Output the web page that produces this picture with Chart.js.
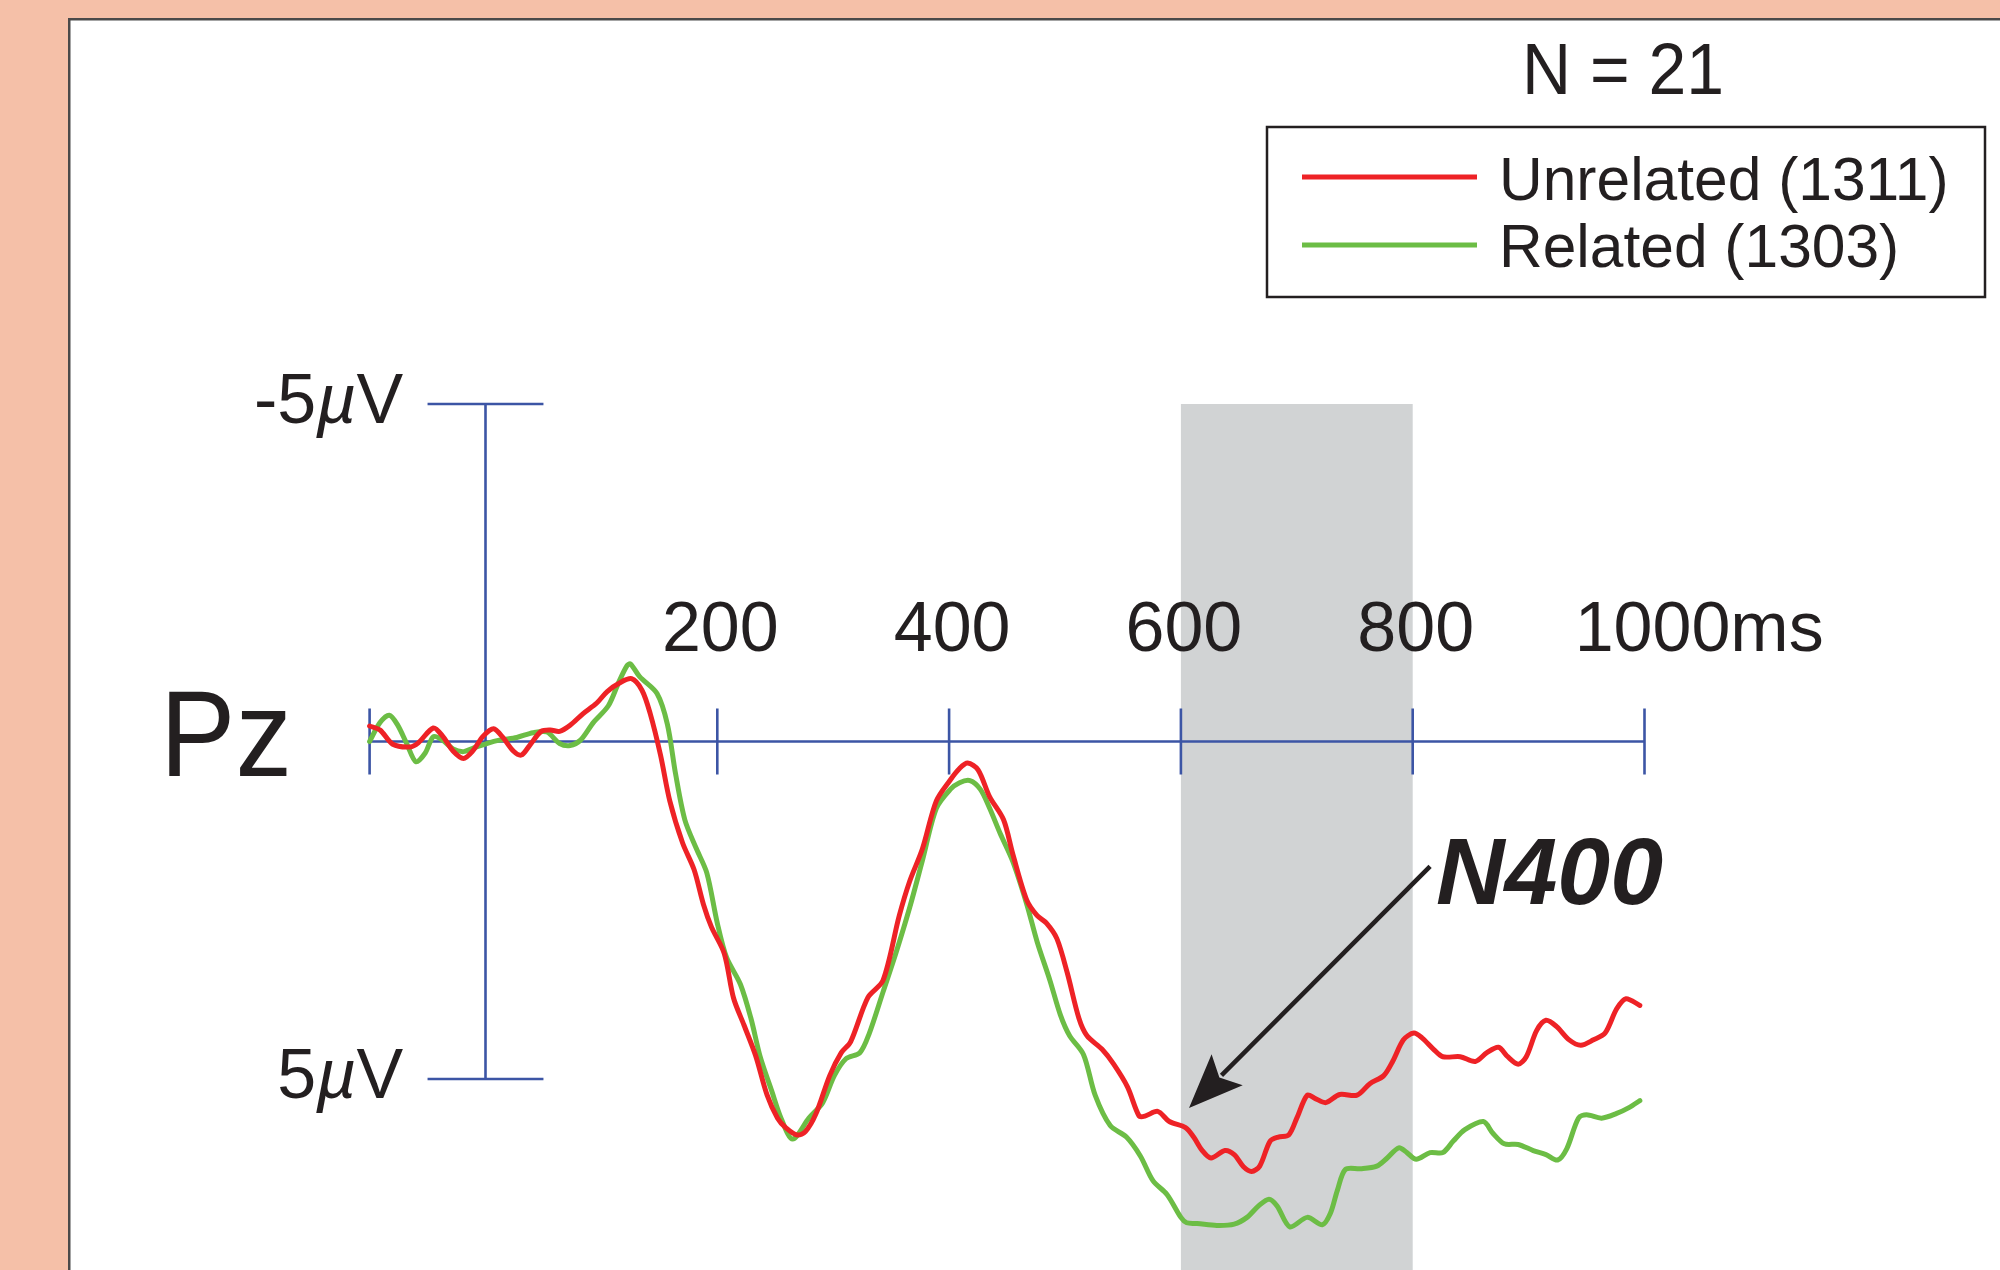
<!DOCTYPE html>
<html>
<head>
<meta charset="utf-8">
<script src="https://cdn.jsdelivr.net/npm/chart.js@4.4.1/dist/chart.umd.min.js"></script>
<style>
html,body{margin:0;padding:0;background:#f5c0a8;}
#wrap{position:absolute;left:0;top:0;width:2000px;height:1270px;}
canvas{display:block;}
</style>
</head>
<body>
<div id="wrap"><canvas id="c" width="2000" height="1270"></canvas></div>
<script>
// ---------------- DATA ----------------
const seriesLabels = ['Unrelated (1311)', 'Related (1303)'];

const unrelatedTimes = [-100,-91,-80,-65,-58,-45,-37,-28,-19,-11,-2,7,15,24,31,38,48,56,64,73,84,96,105,116,126,135,142,151,159,170,180,188,195,206,214,223,233,243,252,259,269,276,285,297,307,315,330,343,357,366,377,389,401,409,416,425,435,447,455,467,476,484,493,502,512,519,532,542,554,564,569,580,590,604,611,618,626,638,646,654,661,668,677,684,693,700,709,716,725,737,752,763,775,783,792,801,808,818,826,841,854,864,874,882,891,898,907,915,924,935,945,956,966,976,984,996];
const unrelatedValues = [-0.23,-0.17,0.04,0.08,0.02,-0.20,-0.08,0.14,0.25,0.14,-0.08,-0.19,-0.06,0.14,0.20,0.06,-0.15,-0.17,-0.15,-0.24,-0.41,-0.57,-0.74,-0.87,-0.93,-0.76,-0.42,0.20,0.88,1.50,1.90,2.41,2.75,3.14,3.80,4.20,4.65,5.24,5.58,5.72,5.83,5.78,5.52,4.95,4.61,4.45,3.79,3.54,2.58,2.07,1.59,0.88,0.57,0.40,0.32,0.42,0.82,1.16,1.67,2.35,2.58,2.69,2.92,3.43,4.10,4.36,4.56,4.78,5.12,5.55,5.55,5.48,5.63,5.72,5.86,6.05,6.17,6.06,6.12,6.30,6.37,6.29,5.92,5.86,5.83,5.58,5.24,5.29,5.35,5.23,5.24,5.07,4.95,4.73,4.42,4.32,4.39,4.56,4.67,4.67,4.74,4.61,4.53,4.67,4.78,4.67,4.28,4.13,4.22,4.42,4.50,4.42,4.32,3.96,3.81,3.91];

const relatedTimes = [-100,-91,-83,-76,-68,-60,-52,-45,-37,-28,-19,-11,1,12,27,41,53,64,73,82,93,106,115,122,125,133,148,157,164,172,182,191,200,208,220,229,237,247,255,265,279,291,301,311,323,331,343,354,366,377,389,401,409,418,427,435,444,455,467,476,487,496,504,516,526,539,553,565,576,588,600,605,614,631,646,657,667,676,683,694,709,722,729,735,742,755,769,778,788,795,803,815,826,835,845,861,869,879,891,904,915,925,933,943,950,963,976,987,996];
const relatedValues = [0.00,-0.28,-0.39,-0.25,0.03,0.30,0.17,-0.07,-0.02,0.11,0.15,0.10,0.03,-0.02,-0.06,-0.13,-0.14,0.03,0.06,-0.02,-0.28,-0.53,-0.88,-1.12,-1.15,-0.96,-0.71,-0.25,0.48,1.16,1.59,1.95,2.69,3.20,3.60,4.10,4.67,5.18,5.58,5.89,5.58,5.35,4.95,4.70,4.61,4.33,3.71,3.14,2.46,1.76,0.99,0.71,0.61,0.58,0.71,0.99,1.36,1.78,2.41,2.97,3.54,4.05,4.36,4.64,5.24,5.69,5.86,6.14,6.51,6.71,7.05,7.13,7.14,7.17,7.15,7.05,6.88,6.78,6.88,7.19,7.05,7.16,6.99,6.65,6.34,6.33,6.29,6.17,6.02,6.09,6.19,6.09,6.09,5.92,5.75,5.63,5.80,5.96,5.97,6.06,6.12,6.20,6.03,5.58,5.53,5.58,5.51,5.42,5.32];

const xTickValues = [-100, 200, 400, 600, 800, 1000];
const xTickLabels = ['', '200', '400', '600', '800', '1000'];
const xUnit = 'ms';
const yCapValues = [-5, 5];
const yCapLabels = ['-5', '5'];
const channelLabel = 'Pz';
const sampleLabel = 'N = 21';
const shadeWindow = [600, 800];
const componentLabel = 'N400';

// ---------------- STYLE / LAYOUT ----------------
const FONT = '"Liberation Sans", Arial, Helvetica, sans-serif';
const INK = '#231f20';
const AXIS = '#3c55a5';
const RED = '#ee2226';
const GREEN = '#6cbd45';

// scale mapping: 0 ms at x=485.5, 1.159 px/ms ; 0 uV at y=741.5, 67.5 px/uV (negative up)
const PX_MS = 1.159, X0 = 485.5, PX_UV = 67.5, Y0 = 741.5;
const X_MIN = -X0 / PX_MS, X_MAX = (2000 - X0) / PX_MS;
const Y_MIN = -Y0 / PX_UV, Y_MAX = (1270 - Y0) / PX_UV;

function drawFit(ctx, str, x, y, font, targetW, align) {
  ctx.font = font;
  const w = ctx.measureText(str).width;
  const s = targetW ? targetW / w : 1;
  const sw = w * s;
  let left = x;
  if (align === 'center') left = x - sw / 2;
  else if (align === 'right') left = x - sw;
  ctx.save();
  ctx.translate(left, y);
  ctx.scale(s, 1);
  ctx.textAlign = 'left';
  ctx.textBaseline = 'alphabetic';
  ctx.fillText(str, 0, 0);
  ctx.restore();
  return sw;
}

const backdrop = {
  id: 'backdrop',
  beforeDraw(chart) {
    const ctx = chart.ctx, xs = chart.scales.x, ys = chart.scales.y;
    ctx.save();
    ctx.fillStyle = '#f5c0a8';
    ctx.fillRect(0, 0, chart.width, chart.height);
    ctx.fillStyle = '#ffffff';
    ctx.fillRect(70, 20, chart.width - 70, chart.height - 20);
    ctx.strokeStyle = '#4a4a4a';
    ctx.lineWidth = 2.5;
    ctx.beginPath();
    ctx.moveTo(69.25, chart.height); ctx.lineTo(69.25, 19.25); ctx.lineTo(chart.width, 19.25);
    ctx.stroke();

    // shaded window
    const sx0 = xs.getPixelForValue(shadeWindow[0]), sx1 = xs.getPixelForValue(shadeWindow[1]);
    const sy0 = ys.getPixelForValue(yCapValues[0]);
    ctx.fillStyle = '#d1d3d4';
    ctx.fillRect(sx0, sy0, sx1 - sx0, chart.height - sy0);

    // axes
    const y0 = ys.getPixelForValue(0), x0 = xs.getPixelForValue(0);
    ctx.strokeStyle = AXIS;
    ctx.lineWidth = 2.6;
    ctx.lineCap = 'butt';
    ctx.beginPath();
    ctx.moveTo(xs.getPixelForValue(xTickValues[0]), y0);
    ctx.lineTo(xs.getPixelForValue(xTickValues[xTickValues.length - 1]), y0);
    xTickValues.forEach(v => {
      const px = xs.getPixelForValue(v);
      ctx.moveTo(px, y0 - 33); ctx.lineTo(px, y0 + 33);
    });
    ctx.moveTo(x0, ys.getPixelForValue(yCapValues[0]));
    ctx.lineTo(x0, ys.getPixelForValue(yCapValues[1]));
    yCapValues.forEach(v => {
      const py = ys.getPixelForValue(v);
      ctx.moveTo(xs.getPixelForValue(-50), py); ctx.lineTo(xs.getPixelForValue(50), py);
    });
    ctx.stroke();
    ctx.restore();
  }
};

const overlay = {
  id: 'overlay',
  afterDraw(chart, args, opts) {
    const ctx = chart.ctx, xs = chart.scales.x, ys = chart.scales.y;
    ctx.save();
    ctx.fillStyle = INK;
    const y0 = ys.getPixelForValue(0);

    // x tick labels
    const tickFont = '70px ' + FONT;
    xTickValues.forEach((v, i) => {
      const lab = xTickLabels[i];
      if (!lab) return;
      const px = xs.getPixelForValue(v);
      const base = y0 - 91;
      if (i === xTickValues.length - 1) {
        ctx.font = tickFont;
        const w = ctx.measureText(lab).width;
        const left = px + 8 - w / 2;
        drawFit(ctx, lab, left, base, tickFont, null, 'left');
        drawFit(ctx, xUnit, left + w, base, tickFont, null, 'left');
      } else {
        drawFit(ctx, lab, px + 3, base, tickFont, null, 'center');
      }
    });

    // y cap labels: "-5µV", "5µV"
    const reg = '70px ' + FONT, ital = 'italic 70px ' + FONT;
    yCapValues.forEach((v, i) => {
      const py = ys.getPixelForValue(v) + 19;
      const right = xs.getPixelForValue(-71);
      const parts = [[yCapLabels[i], reg], ['\u00B5', ital], ['V', reg]];
      let total = 0;
      parts.forEach(p => { ctx.font = p[1]; total += ctx.measureText(p[0]).width; });
      let x = right - total;
      parts.forEach(p => { x += drawFit(ctx, p[0], x, py, p[1], null, 'left'); });
    });

    // channel label
    drawFit(ctx, channelLabel, 160, 776, '122px ' + FONT, 132, 'left');

    // sample size
    drawFit(ctx, sampleLabel, 1522, 94, '73px ' + FONT, 202, 'left');

    // legend
    const lg = opts.legend;
    ctx.strokeStyle = INK;
    ctx.lineWidth = 2.5;
    ctx.strokeRect(lg.x, lg.y, lg.w, lg.h);
    chart.data.datasets.forEach((ds, i) => {
      const ly = lg.rows[i];
      ctx.strokeStyle = ds.borderColor;
      ctx.lineWidth = 5;
      ctx.lineCap = 'butt';
      ctx.beginPath();
      ctx.moveTo(lg.lineX0, ly); ctx.lineTo(lg.lineX1, ly);
      ctx.stroke();
      ctx.fillStyle = INK;
      drawFit(ctx, ds.label, lg.textX, lg.baselines[i], '60.5px ' + FONT, null, 'left');
    });

    // N400 label
    const an = opts.annotation;
    drawFit(ctx, componentLabel, xs.getPixelForValue(an.labelAt[0]), ys.getPixelForValue(an.labelAt[1]),
            'italic bold 95px ' + FONT, null, 'left');

    // arrow
    const sx = xs.getPixelForValue(an.from[0]), sy = ys.getPixelForValue(an.from[1]);
    const tx = xs.getPixelForValue(an.to[0]), ty = ys.getPixelForValue(an.to[1]);
    const dx = sx - tx, dy = sy - ty, L = Math.hypot(dx, dy);
    const ux = dx / L, uy = dy / L, pxv = -uy, pyv = ux;
    ctx.strokeStyle = INK;
    ctx.lineWidth = 4.5;
    ctx.lineCap = 'butt';
    ctx.beginPath();
    ctx.moveTo(sx, sy);
    ctx.lineTo(tx + ux * 46, ty + uy * 46);
    ctx.stroke();
    ctx.fillStyle = INK;
    ctx.beginPath();
    ctx.moveTo(tx, ty);
    ctx.lineTo(tx + ux * 54 + pxv * 22, ty + uy * 54 + pyv * 22);
    ctx.lineTo(tx + ux * 43, ty + uy * 43);
    ctx.lineTo(tx + ux * 54 - pxv * 22, ty + uy * 54 - pyv * 22);
    ctx.closePath();
    ctx.fill();
    ctx.restore();
  }
};

const toPts = (ts, vs) => ts.map((t, i) => ({ x: t, y: vs[i] }));

new Chart(document.getElementById('c'), {
  type: 'line',
  data: {
    datasets: [
      { label: seriesLabels[0], data: toPts(unrelatedTimes, unrelatedValues), borderColor: RED, backgroundColor: RED },
      { label: seriesLabels[1], data: toPts(relatedTimes, relatedValues), borderColor: GREEN, backgroundColor: GREEN }
    ]
  },
  options: {
    responsive: false,
    animation: false,
    devicePixelRatio: 1,
    layout: { padding: 0 },
    elements: {
      point: { radius: 0, hoverRadius: 0 },
      line: { tension: 0.3, borderWidth: 5, borderCapStyle: 'round', borderJoinStyle: 'round', fill: false }
    },
    scales: {
      x: { type: 'linear', min: X_MIN, max: X_MAX, display: false },
      y: { type: 'linear', min: Y_MIN, max: Y_MAX, reverse: true, display: false }
    },
    plugins: {
      legend: { display: false },
      tooltip: { enabled: false },
      title: { display: false },
      overlay: {
        legend: { x: 1267, y: 127, w: 718, h: 170, lineX0: 1302, lineX1: 1477, rows: [177, 245], textX: 1499, baselines: [200, 267] },
        annotation: { labelAt: [820, 2.41], from: [815, 1.85], to: [607, 5.43] }
      }
    }
  },
  plugins: [backdrop, overlay]
});
</script>
</body>
</html>
